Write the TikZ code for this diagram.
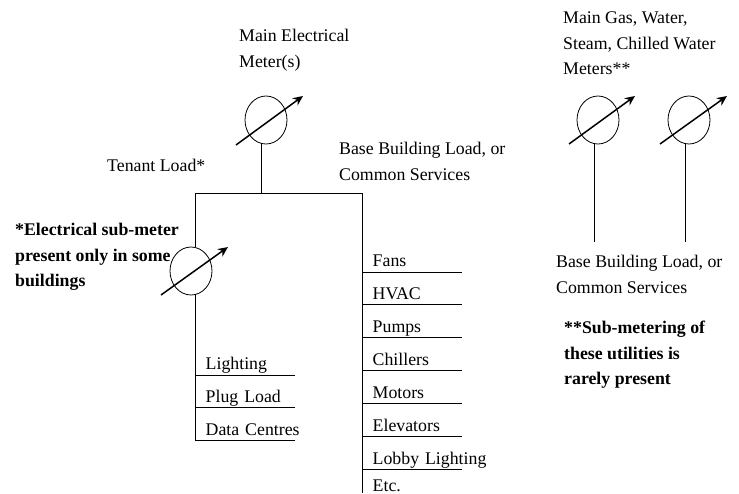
\documentclass[tikz,border=0pt]{standalone}
\usepackage{fontspec}
\setmainfont{Liberation Serif}
\usetikzlibrary{shapes.geometric, arrows.meta, positioning}
\tikzstyle{meter} = [
    ellipse, draw=black, line width=0.8pt, inner sep=0pt,
    minimum width=42pt, minimum height=48pt
]
\tikzstyle{label} = [
    align=left, anchor=north west, inner sep=0pt,
    font=\fontsize{17.8}{25.5}\selectfont
]
\tikzstyle{note} = [label, font=\fontsize{17.8}{25.5}\selectfont\bfseries]
\tikzstyle{load} = [
    anchor=south west, inner xsep=10.5pt, inner ysep=0pt, text width=79pt,
    text height=27.5pt, text depth=5pt, font=\fontsize{17.8}{20}\selectfont
]
\tikzstyle{wire} = [line width=1pt, draw=black]
\tikzstyle{needle} = [line width=1.5pt, draw=black, -{Stealth[length=10pt,width=9pt]}]

\begin{document}
\begin{tikzpicture}[x=1pt, y=-1pt]
    \useasboundingbox (0,0) rectangle (739,493);

    % meters
    \node [meter] (mainmeter) at (266,120) {};
    \node [meter] (submeter) at (191,271) {};
    \node [meter] (utilmetera) at (598,120) {};
    \node [meter] (utilmeterb) at (689,120) {};

    \path [needle] ([shift={(-30,25)}]mainmeter.center) -- ([shift={(37,-24)}]mainmeter.center);
    \path [needle] ([shift={(-30,24)}]submeter.center) -- ([shift={(37,-24)}]submeter.center);
    \path [needle] ([shift={(-29,24)}]utilmetera.center) -- ([shift={(37,-24)}]utilmetera.center);
    \path [needle] ([shift={(-29,24)}]utilmeterb.center) -- ([shift={(38,-24)}]utilmeterb.center);

    % labels
    \node [label] (mainlabel) at (239,29) {Main Electrical\\Meter(s)};
    \node [label] (tenant) at (107,159) {Tenant Load*};
    \node [label] (baseleft) at (339,142) {Base Building Load, or\\Common Services};
    \node [label] (utillabel) at (563,12) {Main Gas, Water,\\Steam, Chilled Water\\Meters**};
    \node [label] (baseright) at (556,255) {Base Building Load, or\\Common Services};
    \node [note] (subnote) at (15,223) {*Electrical sub-meter\\present only in some\\buildings};
    \node [note] (utilnote) at (564,321) {**Sub-metering of\\these utilities is\\rarely present};

    % tenant loads
    \node [load] (lighting) at (195,375) {Lighting};
    \node [load, below=0pt of lighting] (plug) {Plug Load};
    \node [load, below=0pt of plug] (data) {\mbox{Data Centres}};

    % common services
    \node [load] (fans) at (362,272) {Fans};
    \node [load, below=0pt of fans] (hvac) {HVAC};
    \node [load, below=0pt of hvac] (pumps) {Pumps};
    \node [load, below=0pt of pumps] (chillers) {Chillers};
    \node [load, below=0pt of chillers] (motors) {Motors};
    \node [load, below=0pt of motors] (elevators) {Elevators};
    \node [load, below=0pt of elevators] (lobby) {\mbox{Lobby Lighting}};
    \node [load, below=0pt of lobby, text height=21.5pt, text depth=0pt] (etc) {Etc.};

    \coordinate (junction) at (261.5,193);
    \coordinate (busleft) at (195,193);
    \coordinate (busright) at (362,193);
    \coordinate (busend) at (362,493);
    \coordinate (utilenda) at (594,242);
    \coordinate (utilendb) at (685,242);

    \path [wire] ([xshift=-4.5pt]mainmeter.south) -- (junction);
    \path [wire] (busleft) -- (busright);
    \path [wire] (busleft) -- ([xshift=4pt]submeter.north);
    \path [wire] ([xshift=4pt]submeter.south) -- (data.south west);
    \path [wire] (busright) -- (busend);
    \path [wire] ([xshift=-4pt]utilmetera.south) -- (utilenda);
    \path [wire] ([xshift=-4pt]utilmeterb.south) -- (utilendb);

    \path [wire] (lighting.south west) -- (lighting.south east);
    \path [wire] (plug.south west) -- (plug.south east);
    \path [wire] (data.south west) -- (data.south east);
    \path [wire] (fans.south west) -- (fans.south east);
    \path [wire] (hvac.south west) -- (hvac.south east);
    \path [wire] (pumps.south west) -- (pumps.south east);
    \path [wire] (chillers.south west) -- (chillers.south east);
    \path [wire] (motors.south west) -- (motors.south east);
    \path [wire] (elevators.south west) -- (elevators.south east);
    \path [wire] (lobby.south west) -- (lobby.south east);
\end{tikzpicture}
\end{document}
